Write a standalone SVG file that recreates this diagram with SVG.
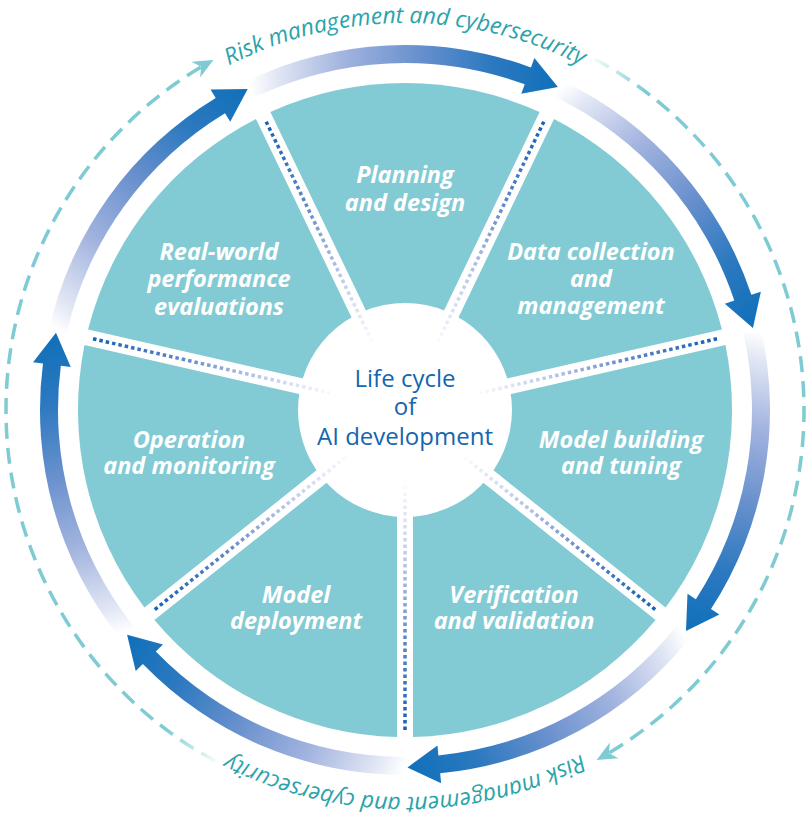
<svg xmlns="http://www.w3.org/2000/svg" xmlns:xlink="http://www.w3.org/1999/xlink" width="810" height="822" viewBox="0 0 810 822">
<style>
.seg{fill:#83cbd4}
.lbl{font-family:"Open Sans","Noto Sans",sans-serif;font-weight:700;font-style:italic;font-size:23.5px;fill:#ffffff;text-anchor:middle}
.ctr{font-family:"Open Sans","Noto Sans",sans-serif;font-size:24px;fill:#1565b0;text-anchor:middle}
.risk{font-family:"Open Sans","Noto Sans",sans-serif;font-style:italic;font-size:23px;fill:#2ba3aa}
.dots{fill:none;stroke:url(#dotGrad);stroke-width:3.5;stroke-dasharray:3.5 3}
.arr{fill:url(#arrGrad)}
.dash{fill:none;stroke:url(#dashGrad);stroke-width:3.5;stroke-dasharray:16 9}
.dhead{fill:#7ecbd3}
</style>
<defs>
<linearGradient id="arrGrad" gradientUnits="userSpaceOnUse" x1="0" y1="-356" x2="278" y2="-225">
<stop offset="0" stop-color="#ffffff"/>
<stop offset="0.08" stop-color="#e3e8f5"/>
<stop offset="0.3" stop-color="#a3b4df"/>
<stop offset="0.55" stop-color="#6890cd"/>
<stop offset="0.78" stop-color="#2d79c0"/>
<stop offset="1" stop-color="#0f70b9"/>
</linearGradient>
<linearGradient id="dotGrad" gradientUnits="userSpaceOnUse" x1="0" y1="-320" x2="0" y2="-70">
<stop offset="0" stop-color="#1262b8"/>
<stop offset="0.35" stop-color="#5b84c9"/>
<stop offset="0.65" stop-color="#b3c1e6"/>
<stop offset="1" stop-color="#ffffff"/>
</linearGradient>
<linearGradient id="dashGrad" gradientUnits="userSpaceOnUse" x1="189.8" y1="-351" x2="240" y2="-318.7">
<stop offset="0" stop-color="#7ecbd3" stop-opacity="0.1"/>
<stop offset="1" stop-color="#7ecbd3" stop-opacity="1"/>
</linearGradient>
<path id="arrow" class="arr" d="M0,-365 A365,365 0 0 1 262.12,-254.01 L269.30,-260.97 L277.92,-224.77 L242.01,-234.52 L249.19,-241.48 A347,347 0 0 0 0,-347 Z"/>
<path id="ringText" d="M-387,0 A387,387 0 0 1 387,0"/>
</defs>

<g id="segments">
<g id="planning">
<path class="seg" transform="translate(405,410)" d="M0,-18.44 L134.63,-298 A327,327 0 0 0 -134.63,-298 Z"/>
<text class="lbl" x="405" y="183">Planning<tspan x="405" dy="28">and design</tspan></text>
</g>
<g id="data-collection">
<path class="seg" transform="translate(405,410) rotate(51.4286)" d="M0,-18.44 L134.63,-298 A327,327 0 0 0 -134.63,-298 Z"/>
<text class="lbl" x="591" y="260">Data collection<tspan x="591" dy="27">and</tspan><tspan x="591" dy="27">management</tspan></text>
</g>
<g id="model-building">
<path class="seg" transform="translate(405,410) rotate(102.8571)" d="M0,-18.44 L134.63,-298 A327,327 0 0 0 -134.63,-298 Z"/>
<text class="lbl" x="621" y="448">Model building<tspan x="621" dy="26">and tuning</tspan></text>
</g>
<g id="verification">
<path class="seg" transform="translate(405,410) rotate(154.2857)" d="M0,-18.44 L134.63,-298 A327,327 0 0 0 -134.63,-298 Z"/>
<text class="lbl" x="514" y="603">Verification<tspan x="514" dy="26">and validation</tspan></text>
</g>
<g id="model-deployment">
<path class="seg" transform="translate(405,410) rotate(205.7143)" d="M0,-18.44 L134.63,-298 A327,327 0 0 0 -134.63,-298 Z"/>
<text class="lbl" x="296" y="603">Model<tspan x="296" dy="26">deployment</tspan></text>
</g>
<g id="operation">
<path class="seg" transform="translate(405,410) rotate(257.1429)" d="M0,-18.44 L134.63,-298 A327,327 0 0 0 -134.63,-298 Z"/>
<text class="lbl" x="189" y="448">Operation<tspan x="189" dy="26">and monitoring</tspan></text>
</g>
<g id="real-world">
<path class="seg" transform="translate(405,410) rotate(308.5714)" d="M0,-18.44 L134.63,-298 A327,327 0 0 0 -134.63,-298 Z"/>
<text class="lbl" x="219" y="260">Real-world<tspan x="219" dy="27">performance</tspan><tspan x="219" dy="28">evaluations</tspan></text>
</g>
</g>

<g id="center">
<circle cx="405" cy="410" r="107" fill="#ffffff"/>
</g>

<g id="separators" transform="translate(405,410)">
<line class="dots" x1="0" y1="-320" x2="0" y2="-60" transform="rotate(-25.7143)"/>
<line class="dots" x1="0" y1="-320" x2="0" y2="-60" transform="rotate(25.7143)"/>
<line class="dots" x1="0" y1="-320" x2="0" y2="-60" transform="rotate(77.1429)"/>
<line class="dots" x1="0" y1="-320" x2="0" y2="-60" transform="rotate(128.5714)"/>
<line class="dots" x1="0" y1="-320" x2="0" y2="-60" transform="rotate(180)"/>
<line class="dots" x1="0" y1="-320" x2="0" y2="-60" transform="rotate(231.4286)"/>
<line class="dots" x1="0" y1="-320" x2="0" y2="-60" transform="rotate(282.8571)"/>
</g>

<g id="center-label">
<text class="ctr" x="405" y="387">Life cycle<tspan x="405" dy="28">of</tspan><tspan x="405" dy="30">AI development</tspan></text>
</g>

<g id="connectors" transform="translate(405,410)">
<use xlink:href="#arrow" href="#arrow" transform="rotate(-25.7143)"/>
<use xlink:href="#arrow" href="#arrow" transform="rotate(25.7143)"/>
<use xlink:href="#arrow" href="#arrow" transform="rotate(77.1429)"/>
<use xlink:href="#arrow" href="#arrow" transform="rotate(128.5714)"/>
<use xlink:href="#arrow" href="#arrow" transform="rotate(180)"/>
<use xlink:href="#arrow" href="#arrow" transform="rotate(231.4286)"/>
<use xlink:href="#arrow" href="#arrow" transform="rotate(282.8571)"/>
<g id="risk-right">
<path class="dash" d="M189.77,-350.98 A399,399 0 0 1 203.71,343.08"/>
<path class="dhead" d="M0,0 L-20,-9 L-14,0 L-20,9 Z" transform="translate(191.61,349.98) rotate(151.3)"/>
</g>
<g id="risk-left" transform="rotate(180)">
<path class="dash" d="M189.77,-350.98 A399,399 0 0 1 203.71,343.08"/>
<path class="dhead" d="M0,0 L-20,-9 L-14,0 L-20,9 Z" transform="translate(191.61,349.98) rotate(151.3)"/>
</g>
<text class="risk"><textPath xlink:href="#ringText" href="#ringText" startOffset="50%" text-anchor="middle">Risk management and cybersecurity</textPath></text>
<text class="risk" transform="rotate(180)"><textPath xlink:href="#ringText" href="#ringText" startOffset="50%" text-anchor="middle">Risk management and cybersecurity</textPath></text>
</g>
</svg>
